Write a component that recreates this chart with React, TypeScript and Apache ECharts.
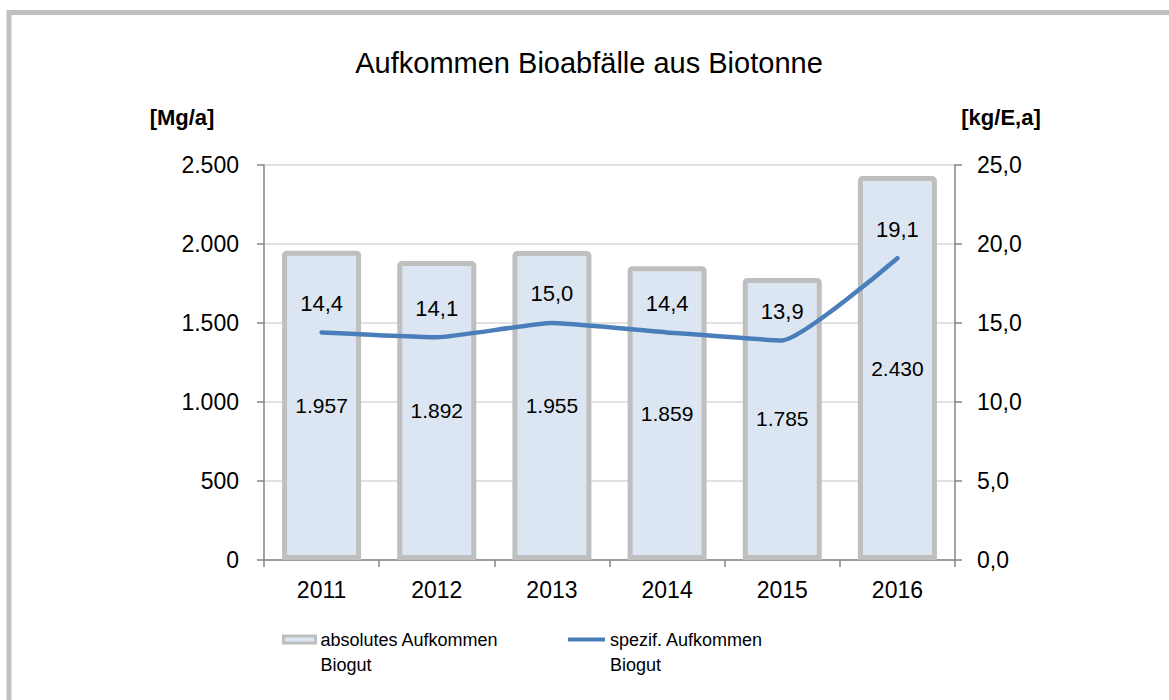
import React, { useEffect, useRef } from "react";
import * as echarts from "echarts";

const years = ["2011", "2012", "2013", "2014", "2015", "2016"];
const absolut = [1957, 1892, 1955, 1859, 1785, 2430];
const spezif = [14.4, 14.1, 15.0, 14.4, 13.9, 19.1];
const titleText = "Aufkommen Bioabfälle aus Biotonne";
const leftUnit = "[Mg/a]";
const rightUnit = "[kg/E,a]";
const barName = "absolutes Aufkommen\nBiogut";
const lineName = "spezif. Aufkommen\nBiogut";

const FONT = "Liberation Sans, Arial, sans-serif";

const fmtThousands = (v: number) =>
  String(Math.round(v)).replace(/\B(?=(\d{3})+(?!\d))/g, ".");
const fmtDec = (v: number) => v.toFixed(1).replace(".", ",");

export default function App() {
  const ref = useRef<HTMLDivElement>(null);
  useEffect(() => {
    if (!ref.current) return;
    const chart = echarts.init(ref.current, null, { renderer: "svg" });
    const axisLineColor = "#868686";
    const legendText = {
      fontFamily: FONT,
      fontSize: 18,
      color: "#000",
      lineHeight: 25,
    };
    chart.setOption({
      animation: false,
      backgroundColor: "#ffffff",
      textStyle: { fontFamily: FONT },
      title: {
        text: titleText,
        left: 584,
        top: 43,
        textAlign: "center",
        textStyle: { fontFamily: FONT, fontSize: 29, fontWeight: "normal", color: "#000" },
      },
      graphic: [
        {
          type: "rect",
          shape: { x: 9, y: 12.5, width: 1300, height: 900 },
          style: { fill: "none", stroke: "#c0c0c0", lineWidth: 5 },
          silent: true,
        },
        {
          type: "text",
          x: 182,
          y: 117,
          style: {
            text: leftUnit,
            fontFamily: FONT,
            fontSize: 22,
            fontWeight: "bold",
            fill: "#000",
            align: "center",
            verticalAlign: "middle",
          },
        },
        {
          type: "text",
          x: 1001,
          y: 117,
          style: {
            text: rightUnit,
            fontFamily: FONT,
            fontSize: 22,
            fontWeight: "bold",
            fill: "#000",
            align: "center",
            verticalAlign: "middle",
          },
        },
      ],
      legend: [
        {
          data: [
            {
              name: barName,
              icon: "rect",
              itemStyle: { color: "#dce6f2", borderColor: "#bfbfbf", borderWidth: 3 },
            },
          ],
          left: 282,
          top: 602,
          padding: 0,
          itemWidth: 32,
          itemHeight: 7,
          itemGap: 5,
          formatter: (n: string) => "\n" + n,
          textStyle: legendText,
        },
        {
          data: [{ name: lineName, icon: "rect" }],
          left: 568,
          top: 602,
          padding: 0,
          itemWidth: 37,
          itemHeight: 4,
          itemGap: 4,
          formatter: (n: string) => "\n" + n,
          textStyle: legendText,
        },
      ],
      grid: { left: 264, right: 214, top: 165, bottom: 140, containLabel: false },
      xAxis: {
        type: "category",
        data: years,
        axisLine: { show: true, lineStyle: { color: axisLineColor, width: 1.5 } },
        axisTick: { show: true, alignWithLabel: false, length: 7, lineStyle: { color: axisLineColor, width: 1.5 } },
        axisLabel: { fontFamily: FONT, fontSize: 23, color: "#000", margin: 18 },
      },
      yAxis: [
        {
          type: "value",
          min: 0,
          max: 2500,
          interval: 500,
          position: "left",
          axisLine: { show: true, lineStyle: { color: axisLineColor, width: 1.5 } },
          axisTick: { show: true, length: 7, lineStyle: { color: axisLineColor, width: 1.5 } },
          axisLabel: {
            fontFamily: FONT,
            fontSize: 23,
            color: "#000",
            margin: 25,
            formatter: (v: number) => fmtThousands(v),
          },
          splitLine: { show: true, lineStyle: { color: "#d9d9d9", width: 1.5 } },
        },
        {
          type: "value",
          min: 0,
          max: 25,
          interval: 5,
          position: "right",
          axisLine: { show: true, lineStyle: { color: axisLineColor, width: 1.5 } },
          axisTick: { show: true, length: 7, lineStyle: { color: axisLineColor, width: 1.5 } },
          axisLabel: {
            fontFamily: FONT,
            fontSize: 23,
            color: "#000",
            margin: 22,
            formatter: (v: number) => fmtDec(v),
          },
          splitLine: { show: false },
        },
      ],
      series: [
        {
          name: barName,
          type: "bar",
          yAxisIndex: 0,
          data: absolut,
          barWidth: 79,
          itemStyle: {
            color: "#dce6f2",
            borderColor: "#bfbfbf",
            borderWidth: 5,
            borderRadius: [2, 2, 0, 0],
          },
          label: {
            show: true,
            position: "inside",
            fontFamily: FONT,
            fontSize: 21,
            color: "#000",
            formatter: (p: any) => fmtThousands(p.value),
          },
          z: 2,
        },
        {
          name: lineName,
          type: "line",
          yAxisIndex: 1,
          data: spezif,
          smooth: 0.15,
          showSymbol: true,
          symbol: "circle",
          symbolSize: 0.1,
          lineStyle: { color: "#4a7ebb", width: 4.5, cap: "round" },
          itemStyle: { color: "#4a7ebb" },
          label: {
            show: true,
            position: "top",
            distance: 18,
            fontFamily: FONT,
            fontSize: 22,
            color: "#000",
            formatter: (p: any) => fmtDec(p.value),
          },
          z: 3,
        },
      ],
    });
    return () => chart.dispose();
  }, []);
  return (
    <div
      ref={ref}
      style={{ position: "absolute", left: 0, top: 0, width: 1169, height: 700 }}
    />
  );
}
